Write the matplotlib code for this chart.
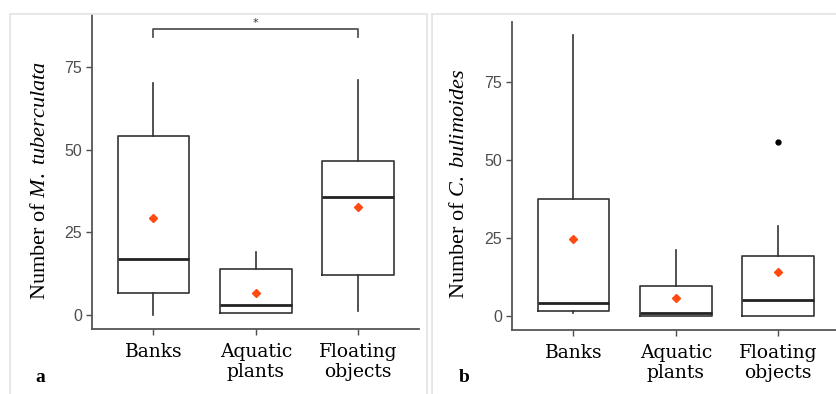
import matplotlib.pyplot as plt
from matplotlib.patches import Rectangle

plt.rcParams['mathtext.fontset'] = 'custom'
plt.rcParams['mathtext.rm'] = 'Liberation Serif'
plt.rcParams['mathtext.it'] = 'Liberation Serif:italic'

categories = ['Banks', 'Aquatic\nplants', 'Floating\nobjects']

# panel a: M. tuberculata
a_low = [0, 0.5, 1.2]
a_q1 = [6.6, 0.5, 12.1]
a_med = [17, 3, 35.7]
a_q3 = [54, 14, 46.6]
a_high = [70, 19, 71]
a_mean = [29.2, 6.6, 32.8]
a_fliers = [[], [], []]

# panel b: C. bulimoides
b_low = [1, 0, 0]
b_q1 = [1.6, 0, 0]
b_med = [4.2, 1, 5.1]
b_q3 = [37.5, 9.6, 19.2]
b_high = [90, 21, 28.8]
b_mean = [24.7, 5.8, 14.1]
b_fliers = [[], [], [55.8]]

sig_pair = [1, 3]
sig_y = [84, 86.5]

W, H = 836, 394
fig = plt.figure(figsize=(W / 100, H / 100), dpi=100)

for x0, x1 in [(10, 427), (432, 846)]:
    fig.patches.append(Rectangle((x0 / W, -0.02), (x1 - x0) / W, (H - 14) / H + 0.02,
                                 transform=fig.transFigure, fill=False,
                                 edgecolor='#e3e3e3', linewidth=1.2))

def make_panel(rect, low, q1, med, q3, high, mean, fliers, ylim, ylabel, lab_xy, letter):
    ax = fig.add_axes(rect)
    stats = []
    for i in range(len(categories)):
        stats.append(dict(whislo=low[i], q1=q1[i], med=med[i], q3=q3[i],
                          whishi=high[i], fliers=fliers[i], mean=mean[i]))
    line_c = '#333333'
    ax.bxp(stats, positions=[1, 2, 3], widths=0.7, showcaps=False, showmeans=True,
           boxprops=dict(color=line_c, linewidth=1.2),
           whiskerprops=dict(color=line_c, linewidth=1.2),
           medianprops=dict(color='#222222', linewidth=2.0),
           meanprops=dict(marker='D', markerfacecolor='#ff4a12', markeredgecolor='#ff4a12',
                          markersize=3.6),
           flierprops=dict(marker='o', markerfacecolor='black', markeredgecolor='black',
                           markersize=3.5))
    ax.set_xlim(0.4, 3.6)
    ax.set_ylim(*ylim)
    ax.set_yticks([0, 25, 50, 75])
    ax.set_xticks([1, 2, 3])
    ax.set_xticklabels(categories, family='DejaVu Serif', fontsize=13.5,
                       linespacing=1.15)
    for t in ax.get_yticklabels():
        t.set_family('Liberation Sans')
        t.set_fontsize(11.5)
        t.set_color('#4d4d4d')
    ax.tick_params(axis='both', length=4, width=1, color='#4d4d4d', pad=3)
    ax.tick_params(axis='x', pad=6)
    for s in ['top', 'right']:
        ax.spines[s].set_visible(False)
    for s in ['left', 'bottom']:
        ax.spines[s].set_color('#555555')
        ax.spines[s].set_linewidth(1.3)
    fig.text(lab_xy[0] / W, 1 - lab_xy[1] / H, ylabel, rotation=90, ha='center',
             va='center', family='Liberation Serif', fontsize=16)
    fig.text(letter[1] / W, 1 - letter[2] / H, letter[0], ha='center', va='center',
             family='Liberation Serif', fontweight='bold', fontsize=14)
    return ax

ax1 = make_panel([92 / W, 1 - 329 / H, (419.5 - 92) / W, (329 - 15) / H],
                 a_low, a_q1, a_med, a_q3, a_high, a_mean, a_fliers,
                 (-4.2, 90.7), 'Number of $\\mathit{M.\\ tuberculata}$', (41, 181), ('a', 40, 378))
ax1.plot([sig_pair[0], sig_pair[0], sig_pair[1], sig_pair[1]],
         [sig_y[0], sig_y[1], sig_y[1], sig_y[0]], color='#555555', linewidth=1.3)
ax1.text(sum(sig_pair) / 2, sig_y[1] + 0.3, '*', ha='center', va='bottom',
         fontsize=8, color='#333333')

ax2 = make_panel([512 / W, 1 - 330 / H, (839.5 - 512) / W, (330 - 22) / H],
                 b_low, b_q1, b_med, b_q3, b_high, b_mean, b_fliers,
                 (-4.5, 94.2), 'Number of $\\mathit{C.\\ bulimoides}$', (460, 184), ('b', 464, 378))

fig.savefig('out.png', dpi=100)
